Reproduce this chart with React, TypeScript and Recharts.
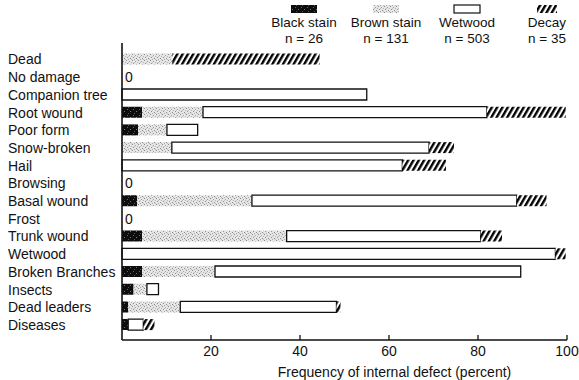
import React from "react";
import { BarChart, Bar, XAxis, YAxis } from "recharts";

const categories = [
  "Dead",
  "No damage",
  "Companion tree",
  "Root wound",
  "Poor form",
  "Snow-broken",
  "Hail",
  "Browsing",
  "Basal wound",
  "Frost",
  "Trunk wound",
  "Wetwood",
  "Broken Branches",
  "Insects",
  "Dead leaders",
  "Diseases",
];
// each series is the length of its own segment (percent), stacked left to right
const blackStain = [0, 0, 0, 4.5, 3.6, 0, 0, 0, 3.4, 0, 4.5, 0, 4.5, 2.6, 1.4, 1.4];
const brownStain = [11.3, 0, 0, 13.7, 6.5, 11.2, 0, 0, 25.8, 0, 32.5, 0, 16.4, 3, 11.7, 0];
const wetwood = [0, 0, 55, 63.8, 6.9, 57.8, 63, 0, 59.5, 0, 43.6, 97.4, 68.7, 2.6, 35.1, 3.4];
const decay = [33.1, 0, 0, 17.7, 0, 5.6, 9.8, 0, 6.7, 0, 4.8, 2.3, 0, 0, 0.9, 2.5];

const seriesNames = ["Black stain", "Brown stain", "Wetwood", "Decay"];
const seriesCounts = [26, 131, 503, 35];
const xTicks = [0, 20, 40, 60, 80, 100];

const FONT = "'Liberation Sans', Arial, Helvetica, sans-serif";
const INK = "#111";
const FS = 14;

const data = categories.map((name, i) => ({
  name,
  black: blackStain[i],
  brown: brownStain[i],
  wet: wetwood[i],
  decay: decay[i],
}));

function Patterns({ prefix }: { prefix: string }) {
  return (
    <defs>
      <pattern id={`${prefix}black`} width="6" height="6" patternUnits="userSpaceOnUse">
        <rect width="6" height="6" fill="#0d0d0d" />
        <rect x="1" y="1" width="1" height="1" fill="#666" />
        <rect x="4" y="3" width="1" height="1" fill="#777" />
        <rect x="2" y="5" width="1" height="1" fill="#555" />
      </pattern>
      <pattern id={`${prefix}brown`} width="6" height="6" patternUnits="userSpaceOnUse">
        <rect width="6" height="6" fill="#e6e6e6" />
        <rect x="0" y="0" width="1" height="1" fill="#8a8a8a" />
        <rect x="3" y="1" width="1" height="1" fill="#a0a0a0" />
        <rect x="1" y="3" width="1" height="1" fill="#909090" />
        <rect x="4" y="4" width="1" height="1" fill="#888" />
        <rect x="2" y="5" width="1" height="1" fill="#aaa" />
        <rect x="5" y="2" width="1" height="1" fill="#b4b4b4" />
        <rect x="2" y="2" width="1" height="1" fill="#c0c0c0" />
        <rect x="5" y="5" width="1" height="1" fill="#bcbcbc" />
      </pattern>
      <pattern
        id={`${prefix}decay`}
        width="4.6"
        height="4.6"
        patternUnits="userSpaceOnUse"
        patternTransform="rotate(30)"
      >
        <rect width="4.6" height="4.6" fill="#fff" />
        <rect width="2.4" height="4.6" fill="#000" />
      </pattern>
    </defs>
  );
}

const fills = ["url(#black)", "url(#brown)", "#fff", "url(#decay)"];

const CategoryTick = (props: any) => {
  const { y, payload } = props;
  const i = categories.indexOf(payload.value);
  const total = blackStain[i] + brownStain[i] + wetwood[i] + decay[i];
  return (
    <g>
      <text x={8} y={y} dy={5} fontSize={FS} fontFamily={FONT} fill={INK} textAnchor="start">
        {payload.value}
      </text>
      {total === 0 && (
        <text x={125} y={y} dy={5} fontSize={FS} fontFamily={FONT} fill={INK}>
          0
        </text>
      )}
    </g>
  );
};

const PercentTick = (props: any) => {
  const { x, y, payload } = props;
  if (payload.value === 0) return <g />;
  return (
    <g>
      <line x1={x} x2={x} y1={y} y2={y - 5} stroke={INK} strokeWidth={1.3} />
      <text x={x} y={y + 16} fontSize={FS} fontFamily={FONT} fill={INK} textAnchor="middle">
        {payload.value}
      </text>
    </g>
  );
};

const legendCenters = [304, 386, 467, 547];

function LegendBlock() {
  return (
    <svg width={579} height={52} style={{ position: "absolute", left: 0, top: 0 }}>
      <Patterns prefix="lg-" />
      {seriesNames.map((s, i) => {
        const cx = legendCenters[i];
        const w = i === 3 ? 20 : 26;
        const fill = ["url(#lg-black)", "url(#lg-brown)", "#fff", "url(#lg-decay)"][i];
        return (
          <g key={s}>
            <rect
              x={cx - w / 2}
              y={5}
              width={w}
              height={8}
              fill={fill}
              stroke={i === 2 ? INK : "none"}
              strokeWidth={1.2}
            />
            <text x={cx} y={27} fontSize={13.5} fontFamily={FONT} fill={INK} textAnchor="middle">
              {s}
            </text>
            <text x={cx} y={43} fontSize={13.5} fontFamily={FONT} fill={INK} textAnchor="middle">
              {`n = ${seriesCounts[i]}`}
            </text>
          </g>
        );
      })}
    </svg>
  );
}

export default function App() {
  return (
    <div style={{ position: "absolute", left: 0, top: 0, width: 579, height: 380, background: "#fff" }}>
      <BarChart
        width={579}
        height={380}
        data={data}
        layout="vertical"
        barSize={11}
        margin={{ top: 43, right: 12, bottom: 3, left: 0 }}
      >
        <Patterns prefix="" />
        <XAxis
          type="number"
          domain={[0, 100]}
          ticks={xTicks}
          height={37}
          tickSize={0}
          tickMargin={0}
          tick={<PercentTick />}
          axisLine={{ stroke: INK, strokeWidth: 1.6 }}
          tickLine={false}
          label={{
            value: "Frequency of internal defect (percent)",
            position: "insideBottom",
            offset: 0,
            dx: 50,
            fontSize: FS,
            fontFamily: FONT,
            fill: INK,
          }}
        />
        <YAxis
          type="category"
          dataKey="name"
          width={122}
          padding={{ top: 7.6, bottom: 6.2 }}
          tickSize={0}
          tickLine={false}
          tick={<CategoryTick />}
          axisLine={{ stroke: INK, strokeWidth: 1.6 }}
          interval={0}
        />
        <Bar dataKey="black" name={seriesNames[0]} stackId="a" fill={fills[0]} isAnimationActive={false} />
        <Bar dataKey="brown" name={seriesNames[1]} stackId="a" fill={fills[1]} isAnimationActive={false} />
        <Bar
          dataKey="wet"
          name={seriesNames[2]}
          stackId="a"
          fill={fills[2]}
          stroke={INK}
          strokeWidth={1.3}
          isAnimationActive={false}
        />
        <Bar dataKey="decay" name={seriesNames[3]} stackId="a" fill={fills[3]} isAnimationActive={false} />
      </BarChart>
      <LegendBlock />
    </div>
  );
}
